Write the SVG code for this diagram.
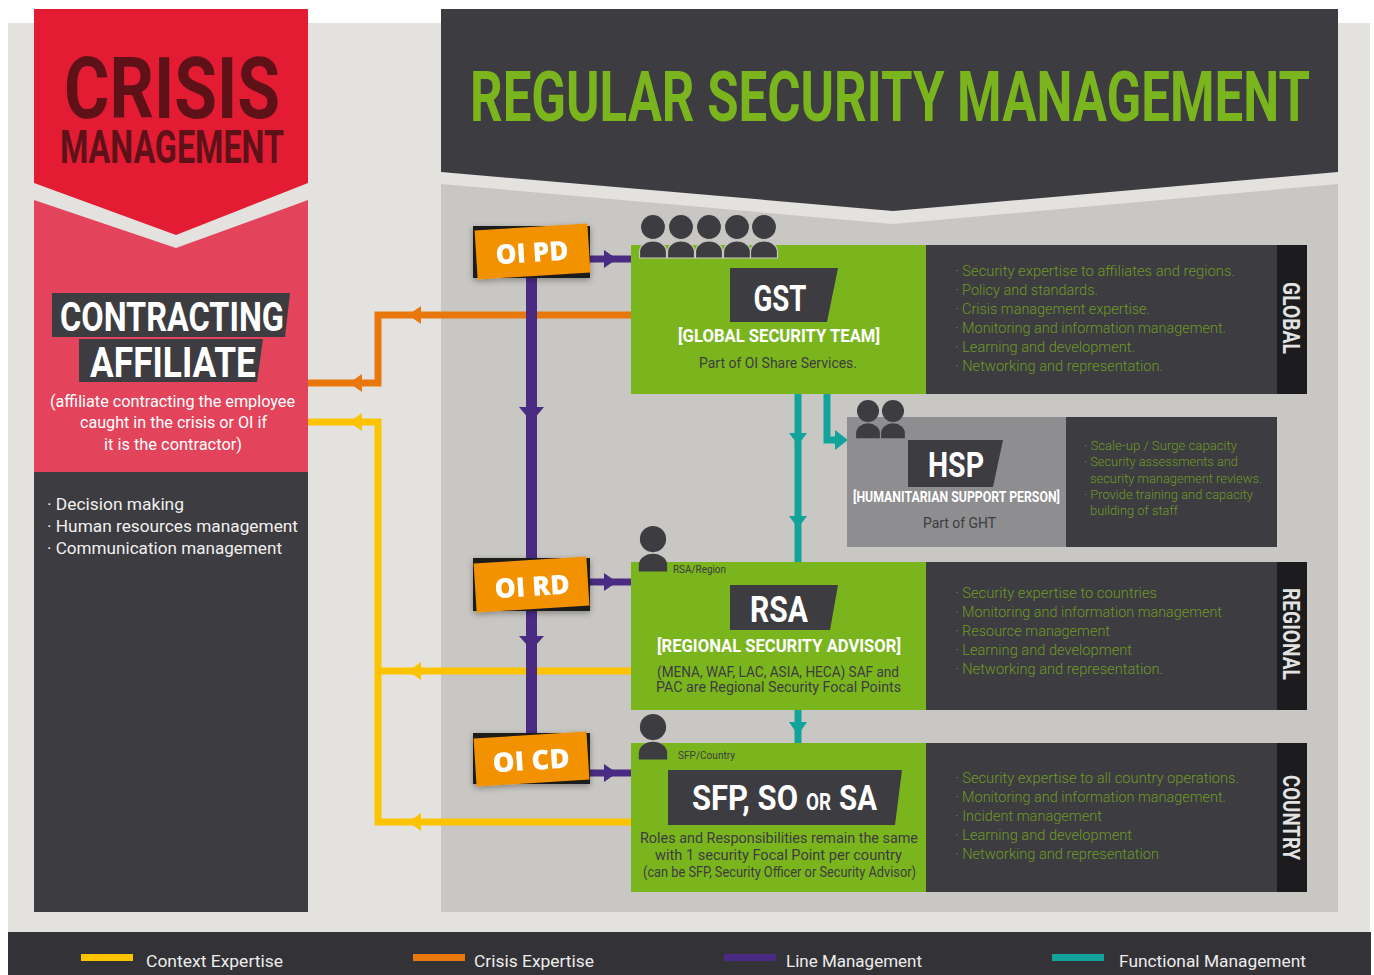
<svg xmlns="http://www.w3.org/2000/svg" width="1374" height="975" viewBox="0 0 1374 975">
<defs>
<style>
.f{font-family:Roboto,"Liberation Sans",sans-serif}
.b{font-family:Roboto,"Liberation Sans",sans-serif;font-weight:700}
.li{font-family:Roboto,"Liberation Sans",sans-serif;font-weight:300;font-size:14.5px;fill:#6e9a26}
.lis{font-family:Roboto,"Liberation Sans",sans-serif;font-weight:300;font-size:13px;fill:#6e9a26}
.dk{fill:#3d3c40}
.grn{fill:#7ab51d}
.side{fill:#1c1b1e}
.vlab{font-family:Roboto,"Liberation Sans",sans-serif;font-weight:700;font-size:24px;fill:#e2e2e2}
.badge{fill:#f39200}
.bsh{fill:#1d1c1a}
.btx{font-family:"Open Sans","DejaVu Sans",sans-serif;font-weight:800;font-size:27px;fill:#ffffff}
.ln{fill:none;stroke-linejoin:miter}
.or{stroke:#e9780c;stroke-width:7}
.ye{stroke:#fcc300;stroke-width:7}
.pu{stroke:#4a2b84}
.te{stroke:#12a39a;stroke-width:7}
.aor{fill:#e9780c}.aye{fill:#fcc300}.apu{fill:#4a2b84}.ate{fill:#12a39a}
.pers{fill:#3d3c40}
.leg{font-family:Roboto,"Liberation Sans",sans-serif;font-size:17px;fill:#ececec}
</style>
<g id="person"><circle cx="0" cy="0" r="12.5"/><path d="M-13.5,31 V25 A13.5,11 0 0 1 13.5,25 V31 Z"/></g>
<filter id="sh" x="-20%" y="-30%" width="140%" height="160%"><feDropShadow dx="0" dy="2" stdDeviation="3" flood-color="#000" flood-opacity="0.35"/></filter>
</defs>

<!-- page background -->
<rect x="0" y="0" width="1374" height="975" fill="#ffffff"/>
<rect x="8" y="23" width="1362" height="910" fill="#e4e2df"/>
<rect x="8" y="932" width="1363" height="43" fill="#333236"/>

<!-- crisis management column -->
<g id="crisis-management">
<polygon points="34,9 308,9 308,183 176,235 34,183" fill="#e31c33"/>
<text class="b" x="64" y="118" font-size="86" textLength="216" lengthAdjust="spacingAndGlyphs" fill="#5e1218">CRISIS</text>
<text class="b" x="60" y="163" font-size="46" textLength="224" lengthAdjust="spacingAndGlyphs" fill="#5e1218">MANAGEMENT</text>
</g>
<g id="contracting-affiliate">
<polygon points="34,200 176,248 308,200 308,472 34,472" fill="#e3445b"/>
<polygon points="52,293 290,293 285,337 52,337" class="dk"/>
<text class="b" x="60" y="331" font-size="40" textLength="224" lengthAdjust="spacingAndGlyphs" fill="#ffffff">CONTRACTING</text>
<polygon points="79,339 263,339 257,382 79,382" class="dk"/>
<text class="b" x="90" y="377" font-size="42" textLength="166" lengthAdjust="spacingAndGlyphs" fill="#ffffff">AFFILIATE</text>
<g class="f" font-size="16" fill="#ffffff" text-anchor="middle">
<text x="172.5" y="407" textLength="245" lengthAdjust="spacingAndGlyphs">(affiliate contracting the employee</text>
<text x="173.5" y="428" textLength="187" lengthAdjust="spacingAndGlyphs">caught in the crisis or OI if</text>
<text x="173" y="450" textLength="138" lengthAdjust="spacingAndGlyphs">it is the contractor)</text>
</g>
<rect x="34" y="472" width="274" height="440" class="dk"/>
<g class="f" font-size="17" fill="#f0f0f0">
<text x="47" y="510" textLength="137" lengthAdjust="spacingAndGlyphs">· Decision making</text>
<text x="47" y="532" textLength="251" lengthAdjust="spacingAndGlyphs">· Human resources management</text>
<text x="47" y="554" textLength="235" lengthAdjust="spacingAndGlyphs">· Communication management</text>
</g>
</g>

<!-- regular security management header + panel -->
<g id="regular-security-management">
<polygon points="441,9 1338,9 1338,172 893,211 441,172" class="dk"/>
<text class="b" x="470" y="121" font-size="70" textLength="840" lengthAdjust="spacingAndGlyphs" fill="#7ab51d">REGULAR SECURITY MANAGEMENT</text>
<polygon points="441,184 893,224 1338,184 1338,912 441,912" fill="#c9c7c3"/>
</g>

<!-- connectors -->
<g id="connectors">
<path class="ln or" d="M631,315 H378 V383 H308"/>
<polygon class="aor" points="408,315 421,306 421,324"/>
<polygon class="aor" points="349,383 362,374 362,392"/>
<path class="ln ye" d="M631,822 H378 V422 H308"/>
<path class="ln ye" d="M631,671 H378"/>
<polygon class="aye" points="349,422 362,413 362,431"/>
<polygon class="aye" points="408,671 421,662 421,680"/>
<polygon class="aye" points="408,822 421,813 421,831"/>
<path class="ln pu" stroke-width="11" d="M531.5,270 V745"/>
<polygon class="apu" points="531.5,422 519,407 544,407"/>
<polygon class="apu" points="531.5,650 519,636 544,636"/>
<path class="ln pu" stroke-width="7" d="M585,259 H631"/>
<path class="ln pu" stroke-width="7" d="M585,582 H631"/>
<path class="ln pu" stroke-width="7" d="M585,773 H631"/>
<polygon class="apu" points="617,259 604,250 604,268"/>
<polygon class="apu" points="617,582 604,573 604,591"/>
<polygon class="apu" points="617,773 604,764 604,782"/>
<path class="ln te" d="M798,394 V562"/>
<path class="ln te" d="M798,710 V743"/>
<path class="ln te" d="M827,394 V440 H837"/>
<polygon class="ate" points="798,445 789,433 807,433"/>
<polygon class="ate" points="798,528 789,516 807,516"/>
<polygon class="ate" points="798,735 789,722 807,722"/>
<polygon class="ate" points="848,440 835,430 835,450"/>
</g>

<!-- OI badges -->
<g id="oi-pd" filter="url(#sh)">
<rect class="bsh" x="473" y="226" width="117" height="52"/>
<g transform="rotate(-3.6 532.5 251.5)">
<rect class="badge" x="476" y="227" width="113" height="49"/>
<text class="btx" x="532" y="262" text-anchor="middle" textLength="73" lengthAdjust="spacingAndGlyphs">OI PD</text>
</g>
</g>
<g id="oi-rd" filter="url(#sh)">
<rect class="bsh" x="473" y="558" width="117" height="53"/>
<g transform="rotate(-3.6 531.5 584.5)">
<rect class="badge" x="475" y="560" width="113" height="49"/>
<text class="btx" x="532" y="596" text-anchor="middle" textLength="75" lengthAdjust="spacingAndGlyphs">OI RD</text>
</g>
</g>
<g id="oi-cd" filter="url(#sh)">
<rect class="bsh" x="473" y="733" width="117" height="51"/>
<g transform="rotate(-3.6 531.5 759)">
<rect class="badge" x="475" y="735" width="113" height="48"/>
<text class="btx" x="531" y="770" text-anchor="middle" textLength="77" lengthAdjust="spacingAndGlyphs">OI CD</text>
</g>
</g>

<!-- GST -->
<g id="gst">
<rect x="631" y="245" width="296" height="149" class="grn"/>
<rect x="926" y="245" width="352" height="149" class="dk"/>
<rect x="1277" y="245" width="30" height="149" class="side"/>
<g class="pers" stroke="#c9c7c3" stroke-width="1.2">
<use href="#person" x="653" y="227"/>
<use href="#person" x="681" y="227"/>
<use href="#person" x="709" y="227"/>
<use href="#person" x="737" y="227"/>
<use href="#person" x="764" y="227"/>
</g>
<polygon points="730,268 838,268 827,322 730,322" class="dk"/>
<text class="b" x="780" y="311" font-size="36" text-anchor="middle" textLength="53" lengthAdjust="spacingAndGlyphs" fill="#ffffff">GST</text>
<text class="b" x="779" y="342" font-size="18" text-anchor="middle" textLength="202" lengthAdjust="spacingAndGlyphs" fill="#ffffff">[GLOBAL SECURITY TEAM]</text>
<text class="f" x="778" y="368" font-size="14" text-anchor="middle" textLength="158" lengthAdjust="spacingAndGlyphs" fill="#3d3c40">Part of OI Share Services.</text>
<text class="li" x="955" y="276" textLength="280" lengthAdjust="spacingAndGlyphs">· Security expertise to affiliates and regions.</text>
<text class="li" x="955" y="295" textLength="143" lengthAdjust="spacingAndGlyphs">· Policy and standards.</text>
<text class="li" x="955" y="314" textLength="195" lengthAdjust="spacingAndGlyphs">· Crisis management expertise.</text>
<text class="li" x="955" y="333" textLength="271" lengthAdjust="spacingAndGlyphs">· Monitoring and information management.</text>
<text class="li" x="955" y="352" textLength="180" lengthAdjust="spacingAndGlyphs">· Learning and development.</text>
<text class="li" x="955" y="371" textLength="208" lengthAdjust="spacingAndGlyphs">· Networking and representation.</text>
<text class="vlab" transform="translate(1283 318) rotate(90)" text-anchor="middle" textLength="72" lengthAdjust="spacingAndGlyphs">GLOBAL</text>
</g>

<!-- HSP -->
<g id="hsp">
<rect x="847" y="417" width="219" height="130" fill="#8e8d8f"/>
<rect x="1066" y="417" width="211" height="130" class="dk"/>
<g class="pers">
<use href="#person" transform="translate(868 411) scale(0.88)"/>
<use href="#person" transform="translate(893 411) scale(0.88)"/>
</g>
<polygon points="908,440 1003,440 993,487 908,487" class="dk"/>
<text class="b" x="956" y="477" font-size="35" text-anchor="middle" textLength="56" lengthAdjust="spacingAndGlyphs" fill="#ffffff">HSP</text>
<text class="b" x="956.5" y="502" font-size="14" text-anchor="middle" textLength="207" lengthAdjust="spacingAndGlyphs" fill="#ffffff">[HUMANITARIAN SUPPORT PERSON]</text>
<text class="f" x="959.5" y="528" font-size="15" text-anchor="middle" textLength="73" lengthAdjust="spacingAndGlyphs" fill="#3d3c40">Part of GHT</text>
<text class="lis" x="1084" y="450" textLength="153" lengthAdjust="spacingAndGlyphs">· Scale-up / Surge capacity</text>
<text class="lis" x="1084" y="466" textLength="154" lengthAdjust="spacingAndGlyphs">· Security assessments and</text>
<text class="lis" x="1090" y="483" textLength="172" lengthAdjust="spacingAndGlyphs">security management reviews.</text>
<text class="lis" x="1084" y="499" textLength="169" lengthAdjust="spacingAndGlyphs">· Provide training and capacity</text>
<text class="lis" x="1090" y="515" textLength="88" lengthAdjust="spacingAndGlyphs">building of staff</text>
</g>

<!-- RSA -->
<g id="rsa">
<rect x="631" y="562" width="296" height="148" class="grn"/>
<rect x="926" y="562" width="352" height="148" class="dk"/>
<rect x="1277" y="562" width="30" height="148" class="side"/>
<use href="#person" class="pers" transform="translate(653 539) scale(1.05)"/>
<text class="f" x="673" y="573" font-size="11" textLength="53" lengthAdjust="spacingAndGlyphs" fill="#3d3c40">RSA/Region</text>
<polygon points="730,585 838,585 830,630 730,630" class="dk"/>
<text class="b" x="779" y="622" font-size="36" text-anchor="middle" textLength="58" lengthAdjust="spacingAndGlyphs" fill="#ffffff">RSA</text>
<text class="b" x="779" y="652" font-size="19" text-anchor="middle" textLength="244" lengthAdjust="spacingAndGlyphs" fill="#ffffff">[REGIONAL SECURITY ADVISOR]</text>
<text class="f" x="778" y="677" font-size="14" text-anchor="middle" textLength="242" lengthAdjust="spacingAndGlyphs" fill="#3d3c40">(MENA, WAF, LAC, ASIA, HECA) SAF and</text>
<text class="f" x="778.5" y="692" font-size="14" text-anchor="middle" textLength="245" lengthAdjust="spacingAndGlyphs" fill="#3d3c40">PAC are Regional Security Focal Points</text>
<text class="li" x="955" y="598" textLength="202" lengthAdjust="spacingAndGlyphs">· Security expertise to countries</text>
<text class="li" x="955" y="617" textLength="267" lengthAdjust="spacingAndGlyphs">· Monitoring and information management</text>
<text class="li" x="955" y="636" textLength="155" lengthAdjust="spacingAndGlyphs">· Resource management</text>
<text class="li" x="955" y="655" textLength="177" lengthAdjust="spacingAndGlyphs">· Learning and development</text>
<text class="li" x="955" y="674" textLength="208" lengthAdjust="spacingAndGlyphs">· Networking and representation.</text>
<text class="vlab" transform="translate(1283 634) rotate(90)" text-anchor="middle" textLength="92" lengthAdjust="spacingAndGlyphs">REGIONAL</text>
</g>

<!-- SFP -->
<g id="sfp">
<rect x="631" y="743" width="296" height="149" class="grn"/>
<rect x="926" y="743" width="352" height="149" class="dk"/>
<rect x="1277" y="743" width="30" height="149" class="side"/>
<use href="#person" class="pers" transform="translate(653 727) scale(1.05)"/>
<text class="f" x="678" y="759" font-size="11" textLength="57" lengthAdjust="spacingAndGlyphs" fill="#3d3c40">SFP/Country</text>
<polygon points="668,770 902,770 895,825 668,825" class="dk"/>
<text class="b" x="692" y="810" font-size="35" textLength="106" lengthAdjust="spacingAndGlyphs" fill="#ffffff">SFP, SO</text>
<text class="b" x="806" y="810" font-size="24" textLength="25" lengthAdjust="spacingAndGlyphs" fill="#ffffff">OR</text>
<text class="b" x="839" y="810" font-size="35" textLength="38" lengthAdjust="spacingAndGlyphs" fill="#ffffff">SA</text>
<text class="f" x="779" y="843" font-size="14" text-anchor="middle" textLength="278" lengthAdjust="spacingAndGlyphs" fill="#3d3c40">Roles and Responsibilities remain the same</text>
<text class="f" x="778.5" y="860" font-size="14" text-anchor="middle" textLength="247" lengthAdjust="spacingAndGlyphs" fill="#3d3c40">with 1 security Focal Point per country</text>
<text class="f" x="779.5" y="877" font-size="14" text-anchor="middle" textLength="273" lengthAdjust="spacingAndGlyphs" fill="#3d3c40">(can be SFP, Security Officer or Security Advisor)</text>
<text class="li" x="955" y="783" textLength="284" lengthAdjust="spacingAndGlyphs">· Security expertise to all country operations.</text>
<text class="li" x="955" y="802" textLength="271" lengthAdjust="spacingAndGlyphs">· Monitoring and information management.</text>
<text class="li" x="955" y="821" textLength="147" lengthAdjust="spacingAndGlyphs">· Incident management</text>
<text class="li" x="955" y="840" textLength="177" lengthAdjust="spacingAndGlyphs">· Learning and development</text>
<text class="li" x="955" y="859" textLength="204" lengthAdjust="spacingAndGlyphs">· Networking and representation</text>
<text class="vlab" transform="translate(1283 817.5) rotate(90)" text-anchor="middle" textLength="85" lengthAdjust="spacingAndGlyphs">COUNTRY</text>
</g>

<!-- legend -->
<g id="legend">
<rect x="81" y="954" width="52" height="7" fill="#fcc300"/>
<text class="leg" x="146" y="967" textLength="137" lengthAdjust="spacingAndGlyphs">Context Expertise</text>
<rect x="413" y="954" width="52" height="7" fill="#e9780c"/>
<text class="leg" x="474" y="967" textLength="120" lengthAdjust="spacingAndGlyphs">Crisis Expertise</text>
<rect x="724" y="954" width="52" height="7" fill="#4a2b84"/>
<text class="leg" x="786" y="967" textLength="136" lengthAdjust="spacingAndGlyphs">Line Management</text>
<rect x="1052" y="954" width="52" height="7" fill="#12a39a"/>
<text class="leg" x="1119" y="967" textLength="187" lengthAdjust="spacingAndGlyphs">Functional Management</text>
</g>
</svg>
